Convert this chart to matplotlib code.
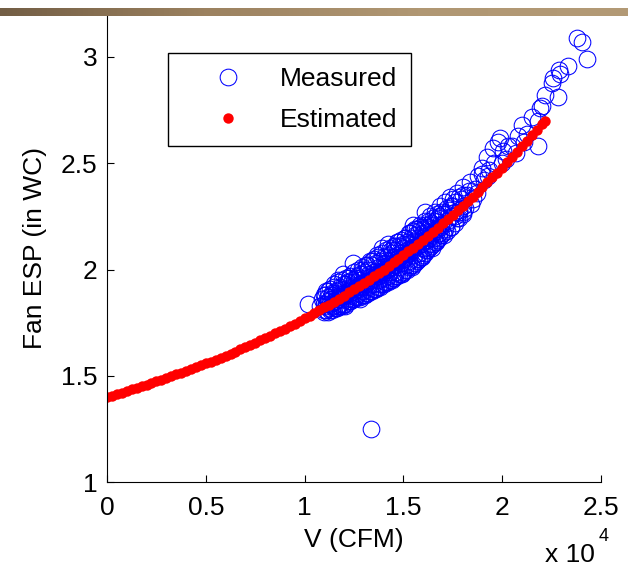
import numpy as np
import matplotlib
matplotlib.use("Agg")
import matplotlib.pyplot as plt
from matplotlib.colors import LinearSegmentedColormap

plt.rcParams['font.family'] = ['Liberation Sans', 'DejaVu Sans']

# ---------------- data ----------------
# Measured points (V in CFM, fan ESP in inches WC) - scattered part
meas_v = [10150, 10800, 10900, 11000, 11050, 11100, 11200, 11250, 11300, 11400,
          11450, 11500, 11550, 11600, 11650, 11700, 11750, 11800, 11850, 11900,
          11950, 12000, 12050, 12100, 12150, 12200, 12250, 12300, 12350, 12400,
          12450, 12500, 12550, 12600, 12650, 12700, 12750, 12800, 12850, 12900,
          12950, 13000, 13050, 13100, 13150, 13200, 13250, 13300, 13350, 13400,
          13450, 13500, 13550, 13600, 13650, 13700, 13750, 13800, 13850, 13900,
          13950, 14000, 14050, 14100, 14150, 14200, 14250, 14300, 14350, 14400,
          14450, 14500, 14550, 14600, 14650, 14700, 14750, 14800, 14850, 14900,
          14950, 15000, 15050, 15100, 15150, 15200, 15250, 15300, 15350, 15400,
          15450, 15500, 15550, 15600, 15650, 15700, 15750, 15800, 15850, 15900,
          15950, 16000, 16050, 16100, 16150, 16200, 16250, 16300, 16350, 16400,
          16450, 16500, 16550, 16600, 16650, 16700, 16750, 16800, 16850, 16900,
          17000, 17050, 17100, 17200, 17300, 17350, 17400, 17500, 17600, 17700,
          17800, 17900, 18000, 18100, 18200, 18370, 18500, 18600, 18800, 18970,
          19100, 19230, 19350, 19530, 19600, 19780, 19890, 20040, 20200, 20500,
          20800, 21000, 21250, 21500, 21810, 21810, 21910, 22010, 22160, 22520,
          22570, 22820, 22870, 22950, 23330, 23780, 24030, 24290, 13360,
          17100, 17500, 17700, 18000, 18300, 18400, 18700, 19000, 19300, 20000,
          20300, 20700, 21100, 14200, 15500, 16100]
meas_esp = [1.84, 1.83, 1.86, 1.81, 1.88, 1.84, 1.90, 1.82, 1.86, 1.88,
            1.83, 1.92, 1.85, 1.89, 1.82, 1.95, 1.87, 1.84, 1.91, 1.86,
            1.98, 1.88, 1.83, 1.93, 1.86, 1.90, 1.96, 1.85, 1.92, 1.88,
            2.03, 1.94, 1.87, 1.91, 1.97, 1.89, 1.95, 1.86, 1.93, 2.00,
            1.90, 1.96, 1.88, 1.94, 2.02, 1.92, 1.98, 1.90, 1.95, 2.04,
            1.93, 1.99, 1.91, 1.97, 2.07, 1.95, 2.01, 1.93, 1.99, 2.10,
            1.96, 2.03, 1.94, 2.00, 2.06, 1.97, 2.04, 1.99, 2.09, 2.01,
            1.96, 2.06, 2.02, 2.11, 1.99, 2.05, 2.13, 2.01, 2.08, 2.03,
            1.98, 2.10, 2.05, 2.15, 2.02, 2.08, 2.12, 2.04, 2.17, 2.09,
            2.01, 2.13, 2.07, 2.19, 2.05, 2.11, 2.15, 2.08, 2.21, 2.12,
            2.06, 2.17, 2.10, 2.23, 2.09, 2.14, 2.19, 2.12, 2.25, 2.16,
            2.10, 2.21, 2.15, 2.27, 2.13, 2.19, 2.24, 2.17, 2.30, 2.21,
            2.26, 2.16, 2.32, 2.22, 2.28, 2.34, 2.20, 2.30, 2.25, 2.36,
            2.27, 2.33, 2.39, 2.29, 2.35, 2.41, 2.33, 2.38, 2.44, 2.48,
            2.42, 2.53, 2.47, 2.57, 2.50, 2.60, 2.62, 2.56, 2.52, 2.58,
            2.63, 2.68, 2.64, 2.72, 2.70, 2.58, 2.76, 2.77, 2.82, 2.88,
            2.90, 2.81, 2.94, 2.92, 2.96, 3.09, 3.07, 2.99, 1.25,
            2.19, 2.33, 2.24, 2.27, 2.37, 2.31, 2.36, 2.45, 2.44, 2.50,
            2.58, 2.55, 2.60, 2.12, 2.21, 2.27]

# Measured points - dense core of the cloud (three readings per airflow step)
core_v = [11000, 11100, 11200, 11300, 11400, 11500, 11600, 11700, 11800, 11900,
          12000, 12100, 12200, 12300, 12400, 12500, 12600, 12700, 12800, 12900,
          13000, 13100, 13200, 13300, 13400, 13500, 13600, 13700, 13800, 13900,
          14000, 14100, 14200, 14300, 14400, 14500, 14600, 14700, 14800, 14900,
          15000, 15100, 15200, 15300, 15400, 15500, 15600, 15700, 15800, 15900,
          16000, 16100, 16200, 16300, 16400, 16500, 16600, 16700, 16800, 16900,
          17000, 17200, 17400, 17600, 17800, 18000]
core_hi = [1.88, 1.90, 1.87, 1.91, 1.89, 1.93, 1.90, 1.94, 1.92, 1.95,
           1.93, 1.96, 1.94, 1.97, 1.95, 1.99, 1.96, 2.00, 1.98, 2.01,
           1.99, 2.02, 2.00, 2.04, 2.02, 2.05, 2.03, 2.06, 2.04, 2.08,
           2.06, 2.09, 2.07, 2.10, 2.08, 2.11, 2.09, 2.13, 2.11, 2.14,
           2.12, 2.15, 2.13, 2.17, 2.15, 2.18, 2.16, 2.19, 2.18, 2.20,
           2.19, 2.21, 2.20, 2.23, 2.22, 2.24, 2.23, 2.26, 2.25, 2.27,
           2.26, 2.29, 2.30, 2.32, 2.34, 2.35]
core_mid = [1.84, 1.83, 1.85, 1.84, 1.86, 1.85, 1.87, 1.86, 1.88, 1.87,
            1.89, 1.88, 1.90, 1.89, 1.91, 1.90, 1.92, 1.91, 1.93, 1.92,
            1.94, 1.93, 1.96, 1.95, 1.97, 1.96, 1.98, 1.97, 1.99, 1.98,
            2.01, 2.00, 2.02, 2.01, 2.03, 2.02, 2.05, 2.04, 2.06, 2.05,
            2.07, 2.06, 2.09, 2.08, 2.10, 2.09, 2.12, 2.11, 2.13, 2.12,
            2.15, 2.14, 2.16, 2.15, 2.18, 2.17, 2.19, 2.18, 2.21, 2.20,
            2.22, 2.23, 2.25, 2.27, 2.28, 2.30]
core_lo = [1.80, 1.81, 1.80, 1.81, 1.81, 1.82, 1.82, 1.83, 1.83, 1.83,
           1.84, 1.84, 1.85, 1.85, 1.86, 1.86, 1.87, 1.87, 1.87, 1.88,
           1.88, 1.89, 1.89, 1.90, 1.90, 1.91, 1.91, 1.92, 1.92, 1.93,
           1.93, 1.94, 1.94, 1.95, 1.95, 1.96, 1.97, 1.97, 1.98, 1.98,
           1.99, 2.00, 2.00, 2.01, 2.02, 2.02, 2.03, 2.04, 2.05, 2.06,
           2.07, 2.08, 2.09, 2.10, 2.11, 2.12, 2.13, 2.14, 2.15, 2.16,
           2.17, 2.18, 2.20, 2.22, 2.24, 2.26]

# Estimated curve points
est_v = [0, 250, 500, 750, 1000, 1250, 1500, 1750, 2000, 2250,
         2500, 2750, 3000, 3250, 3500, 3750, 4000, 4250, 4500, 4750,
         5000, 5250, 5500, 5750, 6000, 6250, 6500, 6750, 7000, 7250,
         7500, 7750, 8000, 8250, 8500, 8750, 9000, 9250, 9500, 9750,
         10000, 10250, 10500, 10750, 11000, 11250, 11500, 11750, 12000, 12250,
         12500, 12750, 13000, 13250, 13500, 13750, 14000, 14250, 14500, 14750,
         15000, 15250, 15500, 15750, 16000, 16250, 16500, 16750, 17000, 17250,
         17500, 17750, 18000, 18250, 18500, 18750, 19000, 19250, 19500, 19750,
         20000, 20250, 20500, 20750, 21000, 21250, 21500, 21750, 22000, 22150]
est_esp = [1.400, 1.407, 1.414, 1.421, 1.429, 1.436, 1.443, 1.451, 1.458, 1.466,
           1.474, 1.482, 1.490, 1.498, 1.506, 1.514, 1.523, 1.531, 1.540, 1.549,
           1.558, 1.567, 1.576, 1.585, 1.595, 1.604, 1.614, 1.624, 1.634, 1.645,
           1.655, 1.666, 1.676, 1.687, 1.699, 1.710, 1.722, 1.733, 1.745, 1.758,
           1.770, 1.783, 1.795, 1.808, 1.822, 1.835, 1.849, 1.863, 1.877, 1.892,
           1.906, 1.921, 1.936, 1.952, 1.968, 1.984, 2.000, 2.016, 2.033, 2.050,
           2.068, 2.085, 2.103, 2.121, 2.140, 2.159, 2.178, 2.197, 2.217, 2.237,
           2.258, 2.278, 2.299, 2.321, 2.342, 2.365, 2.387, 2.410, 2.433, 2.456,
           2.480, 2.504, 2.529, 2.554, 2.579, 2.605, 2.631, 2.657, 2.684, 2.700]

x_ticks = [0, 5000, 10000, 15000, 20000, 25000]
x_tick_labels = ['0', '0.5', '1', '1.5', '2', '2.5']
y_ticks = [1, 1.5, 2, 2.5, 3]
y_tick_labels = ['1', '1.5', '2', '2.5', '3']

# ---------------- figure ----------------
W, H = 628, 569
fig = plt.figure(figsize=(W / 100, H / 100), dpi=100)

ax_left, ax_right = 107, 601
ax_bottom, ax_top = 482, 14.5
ax = fig.add_axes([ax_left / W, 1 - ax_bottom / H,
                   (ax_right - ax_left) / W, (ax_bottom - ax_top) / H])

all_v = meas_v + core_v + core_v + core_v
all_esp = meas_esp + core_hi + core_mid + core_lo

ax.plot(all_v, all_esp, linestyle='none', marker='o', markersize=12,
        markerfacecolor='none', markeredgecolor='#0000ff', markeredgewidth=0.75,
        label='Measured')
ax.plot(est_v, est_esp, linestyle='none', marker='o', markersize=7.5,
        markerfacecolor='#ff0000', markeredgecolor='#ff0000', markeredgewidth=0,
        label='Estimated')

ax.set_xlim(0, 25000)
ax.set_ylim(1, 3.2)
ax.set_xticks(x_ticks)
ax.set_xticklabels(x_tick_labels)
ax.set_yticks(y_ticks)
ax.set_yticklabels(y_tick_labels)
ax.tick_params(direction='in', length=5, width=0.8, labelsize=19, colors='black')
ax.tick_params(axis='x', pad=10)
ax.tick_params(axis='y', pad=7)
for s in ['top', 'right']:
    ax.spines[s].set_visible(False)
for s in ['left', 'bottom']:
    ax.spines[s].set_linewidth(0.8)

ax.set_xlabel('V (CFM)', fontsize=19, labelpad=6)
ax.set_ylabel('Fan ESP (in WC)', fontsize=19, labelpad=10)

leg = ax.legend(loc='upper left', bbox_to_anchor=(168 / W, 1 - 53 / H),
                bbox_transform=fig.transFigure, borderaxespad=0,
                fontsize=19, numpoints=1, handlelength=3.48, handletextpad=0.23,
                borderpad=0.53, labelspacing=0.64, fancybox=False,
                framealpha=1, edgecolor='black')
leg.get_frame().set_linewidth(1.0)

# exponent note
fig.text(545 / W, 1 - 562 / H, 'x 10', fontsize=19, ha='left', va='baseline')
fig.text(599 / W, 1 - 541 / H, '4', fontsize=13, ha='left', va='baseline')

# decorative top bar
bar = fig.add_axes([0, 1 - 16 / H, 1, 8 / H])
cmap = LinearSegmentedColormap.from_list('bar', ['#735e45', '#9c8260', '#b09773', '#b39a76'])
bar.imshow(np.linspace(0, 1, 256).reshape(1, -1), aspect='auto', cmap=cmap,
           extent=[0, 1, 0, 1])
bar.set_axis_off()

fig.savefig('out.png', dpi=100)
